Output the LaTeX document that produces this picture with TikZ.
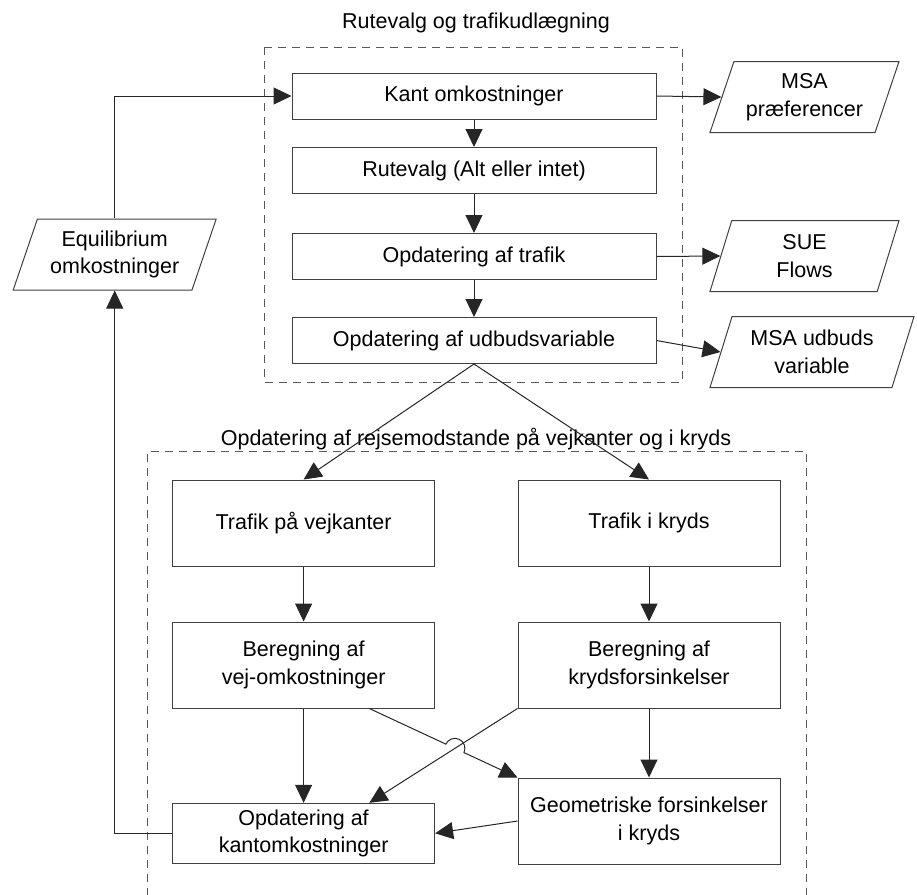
\documentclass[tikz,border=0pt]{standalone}
\usepackage{fontspec}
\setmainfont{Liberation Sans}
\usepackage{tikz}
\usetikzlibrary{arrows.meta,shapes.geometric,calc,intersections}

\begin{document}
\begin{tikzpicture}[x=1pt,y=-1pt,font=\fontsize{21.5pt}{27.5pt}\selectfont,
	box/.style={draw=black!75, line width=1pt, minimum width=364pt, minimum height=46pt, inner sep=0pt},
	cell/.style={draw=black!75, line width=1pt, minimum width=262pt, minimum height=86pt, inner sep=0pt, align=center},
	data/.style={draw=black!75, line width=1pt, trapezium, trapezium left angle=63, trapezium right angle=117,
		trapezium stretches body=true, minimum height=71pt, inner xsep=0pt, inner ysep=0pt, align=center},
	flow/.style={draw=black!85, line width=1pt, -{Triangle[length=18pt,width=17pt]}},
	group/.style={draw=black!65, line width=1pt, dash pattern=on 8pt off 6pt}]
		\useasboundingbox (0,0) rectangle (917,894);
		\clip (0,0) rectangle (917,894);
		
		\draw[group] (264,47) rectangle (682,382);
		\draw[group] (147,910) |- (806.5,451.5) -- (806.5,910);
		
		\node[anchor=base] (title1) at (476,28) {Rutevalg og trafikudlægning};
		\node[anchor=base] (title2) at (476,445) {Opdatering af rejsemodstande på vejkanter og i kryds};
		
		\node[box] (kant) at (474,96) {Kant omkostninger};
		\node[box] (rute) at (474,170.5) {Rutevalg (Alt eller intet)};
		\node[box] (trafik) at (474,256.5) {Opdatering af trafik};
		\node[box] (udbud) at (474,340.5) {Opdatering af udbudsvariable};
		
		\node[data, minimum width=189pt] (pref) at (804.5,97) {MSA\\præferencer};
		\node[data, minimum width=189pt] (sue) at (804.5,256) {SUE\\Flows};
		\node[data, minimum width=204pt] (msaud) at (812,352) {MSA udbuds\\variable};
		\node[data, minimum width=203pt] (equil) at (114.7,254.5) {Equilibrium\\omkostninger};
		
		\node[cell] (tvej) at (303.6,523) {Trafik på vejkanter};
		\node[cell] (tkryds) at (649,523) {Trafik i kryds};
		\node[cell] (bvej) at (303.6,665) {Beregning af\\vej-omkostninger};
		\node[cell] (bkryds) at (649,665) {Beregning af\\krydsforsinkelser};
		\node[cell] (geo) at (649,821) {Geometriske forsinkelser\\i kryds};
		\node[cell, minimum height=60pt] (okant) at (303.6,833.3) {Opdatering af\\kantomkostninger};
		
		\draw[flow] (equil.north) |- (kant.west);
		\draw[flow] (kant) -- (rute);
		\draw[flow] (rute) -- (trafik);
		\draw[flow] (trafik) -- (udbud);
		\draw[flow] (kant.east) -- (pref.west);
		\draw[flow] (trafik.east) -- (sue.west);
		\draw[flow] (udbud.east) -- (msaud.west);
		
		\draw[flow] (udbud.south) -- (tvej.north);
		\draw[flow] (udbud.south) -- (tkryds.north);
		\draw[flow] (tvej) -- (bvej);
		\draw[flow] (tkryds) -- (bkryds);
		\draw[flow] (bvej) -- (okant);
		\draw[flow] (bkryds) -- (geo);
		
		\coordinate (ha) at ($(bvej.south)!0.5!(bvej.south east)$);
		\coordinate (hb) at ($(okant.north)!0.5!(okant.north east)$);
		\path[name path=lnA] (ha) -- (geo.north west);
		\path[name path=lnB] (bkryds.south west) -- (hb);
		\path[name intersections={of=lnA and lnB, by=hop}];
		\draw[flow] (ha) -- ($(hop)!10pt!(ha)$) arc[start angle=155, end angle=-25, radius=10pt] -- (geo.north west);
		\draw[flow] (bkryds.south west) -- (hb);
		\draw[flow] (geo.west) -- (okant.east);
		\draw[flow] (okant.west) -| (equil.south);
	\end{tikzpicture}
\end{document}
